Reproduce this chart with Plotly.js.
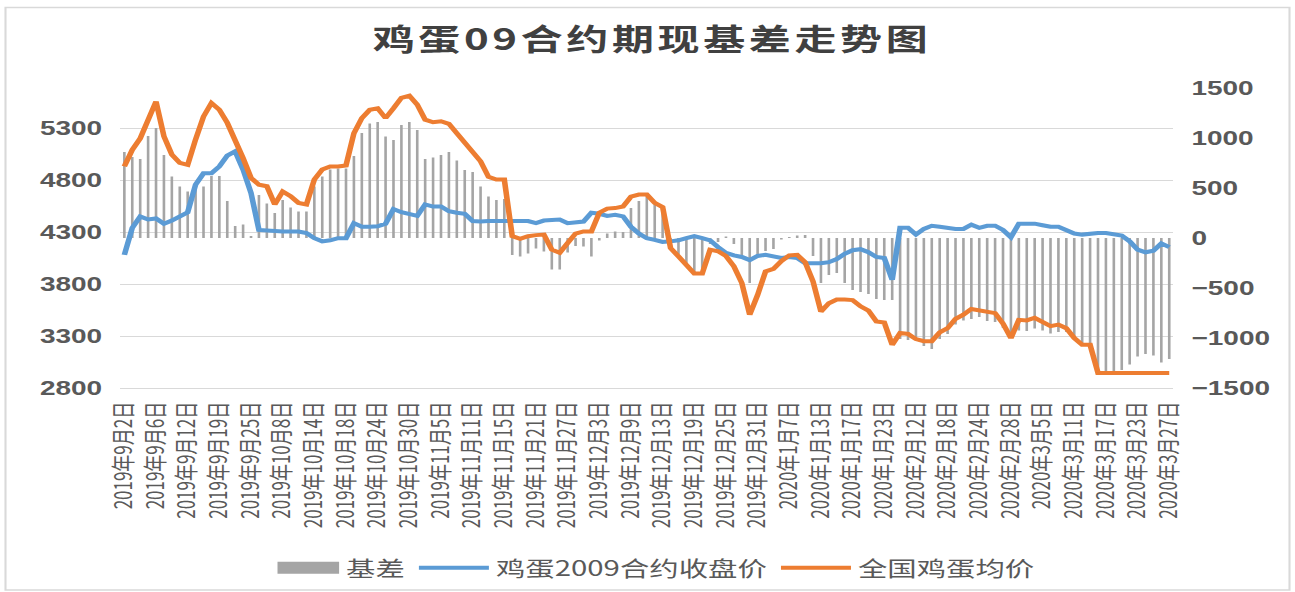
<!DOCTYPE html>
<html>
<head>
<meta charset="utf-8">
<script src="https://cdn.plot.ly/plotly-3.0.1.min.js"></script>
<style>
  html, body { margin: 0; padding: 0; background: #ffffff; overflow: hidden; }
  #wrap { width: 1295px; height: 592px; overflow: hidden; position: relative; }
  #chart { width: 925px; height: 592px; transform: scaleX(1.4); transform-origin: 0 0; }
  .gtitle { letter-spacing: 2.6px; }
</style>
</head>
<body>
<div id="wrap"><div id="chart"></div></div>
<script>
// ---- data ----
const dates = [
"2019年9月2日","2019年9月3日","2019年9月4日","2019年9月5日","2019年9月6日",
"2019年9月9日","2019年9月10日","2019年9月11日","2019年9月12日",
"2019年9月16日","2019年9月17日","2019年9月18日","2019年9月19日",
"2019年9月20日","2019年9月23日","2019年9月24日","2019年9月25日",
"2019年9月26日","2019年9月27日","2019年9月30日","2019年10月8日",
"2019年10月9日","2019年10月10日","2019年10月11日","2019年10月14日",
"2019年10月15日","2019年10月16日","2019年10月17日","2019年10月18日",
"2019年10月21日","2019年10月22日","2019年10月23日","2019年10月24日",
"2019年10月25日","2019年10月28日","2019年10月29日","2019年10月30日",
"2019年10月31日","2019年11月1日","2019年11月4日","2019年11月5日",
"2019年11月6日","2019年11月7日","2019年11月8日","2019年11月11日",
"2019年11月12日","2019年11月13日","2019年11月14日","2019年11月15日",
"2019年11月18日","2019年11月19日","2019年11月20日","2019年11月21日",
"2019年11月22日","2019年11月25日","2019年11月26日","2019年11月27日",
"2019年11月28日","2019年11月29日","2019年12月2日","2019年12月3日",
"2019年12月4日","2019年12月5日","2019年12月6日","2019年12月9日",
"2019年12月10日","2019年12月11日","2019年12月12日","2019年12月13日",
"2019年12月16日","2019年12月17日","2019年12月18日","2019年12月19日",
"2019年12月20日","2019年12月23日","2019年12月24日","2019年12月25日",
"2019年12月26日","2019年12月27日","2019年12月30日","2019年12月31日",
"2020年1月2日","2020年1月3日","2020年1月6日","2020年1月7日",
"2020年1月8日","2020年1月9日","2020年1月10日","2020年1月13日",
"2020年1月14日","2020年1月15日","2020年1月16日","2020年1月17日",
"2020年1月20日","2020年1月21日","2020年1月22日","2020年1月23日",
"2020年2月7日","2020年2月10日","2020年2月11日","2020年2月12日",
"2020年2月13日","2020年2月14日","2020年2月17日","2020年2月18日",
"2020年2月19日","2020年2月20日","2020年2月21日","2020年2月24日",
"2020年2月25日","2020年2月26日","2020年2月27日","2020年2月28日",
"2020年3月2日","2020年3月3日","2020年3月4日","2020年3月5日",
"2020年3月6日","2020年3月9日","2020年3月10日","2020年3月11日",
"2020年3月12日","2020年3月13日","2020年3月16日","2020年3月17日",
"2020年3月18日","2020年3月19日","2020年3月20日","2020年3月23日",
"2020年3月24日","2020年3月25日","2020年3月26日","2020年3月27日"
];

const tickLabels = [
"2019年9月2日","2019年9月6日","2019年9月12日","2019年9月19日","2019年9月25日",
"2019年10月8日","2019年10月14日","2019年10月18日","2019年10月24日","2019年10月30日",
"2019年11月5日","2019年11月11日","2019年11月15日","2019年11月21日","2019年11月27日",
"2019年12月3日","2019年12月9日","2019年12月13日","2019年12月19日","2019年12月25日",
"2019年12月31日","2020年1月7日","2020年1月13日","2020年1月17日","2020年1月23日",
"2020年2月12日","2020年2月18日","2020年2月24日","2020年2月28日","2020年3月5日",
"2020年3月11日","2020年3月17日","2020年3月23日","2020年3月27日"
];

// 全国鸡蛋均价
const spotPrice = [
 4930,5090,5200,5380,5555,5220,5045,4965,4945,5190,
 5410,5540,5475,5350,5190,5010,4820,4755,4740,4565,
 4690,4645,4580,4565,4805,4900,4930,4930,4940,5250,
 5395,5475,5490,5395,5490,5590,5610,5525,5380,5355,
 5365,5340,5250,5155,5060,4980,4830,4805,4805,4260,
 4235,4260,4270,4275,4130,4100,4195,4285,4305,4305,
 4485,4525,4530,4545,4640,4660,4660,4580,4540,4145,
 4065,3975,3900,3900,4130,4115,4070,3970,3810,3505,
 3695,3920,3945,4020,4075,4080,4010,3825,3535,3615,
 3650,3650,3645,3585,3545,3440,3430,3215,3330,3320,
 3270,3250,3250,3335,3375,3465,3505,3560,3545,3530,
 3520,3420,3280,3455,3450,3475,3440,3395,3410,3375,
 3280,3215,3215,2945,2945,2945,2945,2945,2945,2945,
 2945,2945,2945
];

// 鸡蛋2009合约收盘价
const futuresClose = [
 4080,4340,4450,4420,4430,4380,4410,4450,4490,4755,
 4865,4865,4930,5035,5075,4900,4675,4320,4315,4305,
 4305,4305,4305,4290,4240,4210,4220,4240,4240,4385,
 4350,4350,4355,4380,4520,4490,4475,4455,4565,4545,
 4545,4500,4485,4475,4405,4400,4405,4405,4410,4410,
 4410,4405,4385,4410,4415,4420,4385,4395,4400,4485,
 4475,4455,4465,4450,4350,4285,4240,4225,4205,4210,
 4220,4240,4260,4240,4220,4155,4100,4075,4060,4030,
 4070,4080,4060,4050,4060,4050,4000,4000,4000,4010,
 4040,4090,4125,4135,4105,4060,4050,3840,4340,4340,
 4275,4330,4360,4350,4340,4330,4330,4370,4340,4360,
 4360,4320,4250,4380,4380,4380,4365,4350,4350,4315,
 4285,4275,4285,4290,4290,4280,4265,4210,4130,4105,
 4120,4190,4155
];

// 基差
const basis = [
 860,810,790,1020,1100,830,615,515,465,515,
 515,620,620,370,120,135,20,430,345,250,
 380,305,265,265,515,615,685,695,695,820,
 1050,1145,1160,1015,980,1130,1160,1080,790,805,
 830,860,775,680,660,515,415,380,390,-170,
 -185,-155,-105,-135,-315,-315,-145,-80,-85,-185,
 -25,45,65,60,300,370,410,350,300,-90,
 -160,-280,-350,-340,-60,-40,15,-60,-180,-450,
 -180,-130,-110,-15,10,25,30,-180,-450,-370,
 -350,-450,-520,-540,-560,-610,-620,-620,-1010,-1020,
 -1000,-1080,-1110,-1010,-960,-865,-825,-810,-790,-830,
 -840,-900,-970,-925,-930,-905,-925,-955,-940,-940,
 -1005,-1055,-1070,-1345,-1345,-1335,-1320,-1265,-1185,-1160,
 -1175,-1245,-1210
];

const leftTicks = [2800, 3300, 3800, 4300, 4800, 5300];
const rightTicks = [-1500, -1000, -500, 0, 500, 1000, 1500];

const seriesNames = ["基差", "鸡蛋2009合约收盘价", "全国鸡蛋均价"];
const chartTitle = "鸡蛋09合约期现基差走势图";

// ---- chart ----
const textGray = "#595959";
const cjk = "Noto Sans CJK SC, Noto Sans, sans-serif";

const traces = [
  {
    type: "bar", name: seriesNames[0], x: dates, y: basis,
    yaxis: "y", marker: { color: "#A5A5A5", line: { width: 0 } }
  },
  {
    type: "scatter", mode: "lines", name: seriesNames[1], x: dates, y: futuresClose,
    yaxis: "y2", line: { color: "#5B9BD5", width: 4 }
  },
  {
    type: "scatter", mode: "lines", name: seriesNames[2], x: dates, y: spotPrice,
    yaxis: "y2", line: { color: "#ED7D31", width: 4 }
  }
];

const L = 86, R = 87, T = 88, B = 204, W = 925, H = 592;
const pw = W - L - R, ph = H - T - B;
const px = v => (v / 1.4 - L) / pw;      // reference pixel x -> paper
const py = v => (H - B - v) / ph;        // reference pixel y -> paper

const layout = {
  width: W, height: H,
  margin: { l: L, r: R, t: T, b: B, pad: 0, autoexpand: false },
  paper_bgcolor: "#ffffff", plot_bgcolor: "#ffffff",
  showlegend: true,
  bargap: 0.67,
  title: {
    text: chartTitle, xref: "container", yref: "container",
    x: 0.5035, y: 1 - 40 / H, xanchor: "center", yanchor: "middle",
    font: { family: cjk, size: 30, weight: 700, color: "#404040" },
    automargin: false
  },
  xaxis: {
    type: "category", categoryorder: "array", categoryarray: dates,
    tickmode: "array", tickvals: tickLabels, ticktext: tickLabels,
    tickangle: -90, ticks: "", ticklabelstandoff: 6,
    tickfont: { family: cjk, size: 17, color: textGray },
    showgrid: false, zeroline: false, automargin: false,
    showline: true, linecolor: "#D9D9D9", linewidth: 1
  },
  yaxis: {
    side: "right", range: [-1500, 1500],
    tickmode: "array", tickvals: rightTicks,
    ticks: "", ticklabelstandoff: 12, automargin: false,
    tickfont: { family: "Liberation Sans, Arial, sans-serif", size: 20, weight: 700, color: textGray },
    showgrid: false, zeroline: false, showline: false
  },
  yaxis2: {
    side: "left", overlaying: "y", range: [2800, 2800 + 300 * 500 / 52],
    tickmode: "array", tickvals: leftTicks,
    ticks: "", ticklabelstandoff: 12, automargin: false,
    tickfont: { family: "Liberation Sans, Arial, sans-serif", size: 20, weight: 700, color: textGray },
    showgrid: true, gridcolor: "#D9D9D9", gridwidth: 1,
    zeroline: false, showline: false
  },
  legend: {
    orientation: "h", x: px(652), xanchor: "center", y: py(568), yanchor: "middle",
    font: { family: cjk, size: 21, color: textGray },
    bgcolor: "rgba(0,0,0,0)", itemwidth: 50, traceorder: "normal"
  },
  shapes: [
    {
      type: "rect", xref: "paper", yref: "paper",
      x0: px(5.5), x1: px(1289.5), y0: py(590), y1: py(7.5),
      line: { color: "#D9D9D9", width: 1.5 }, fillcolor: "rgba(0,0,0,0)", layer: "below"
    }
  ]
};

Plotly.newPlot("chart", traces, layout, { staticPlot: true, displayModeBar: false }).then(function (gd) {
  // widen the bar legend swatch to the flat rectangle used in the reference
  const first = gd.querySelector(".legend .traces .legendpoints path");
  if (first) first.setAttribute("d", "M-19,6H25V-6H-19Z");
});
</script>
</body>
</html>
